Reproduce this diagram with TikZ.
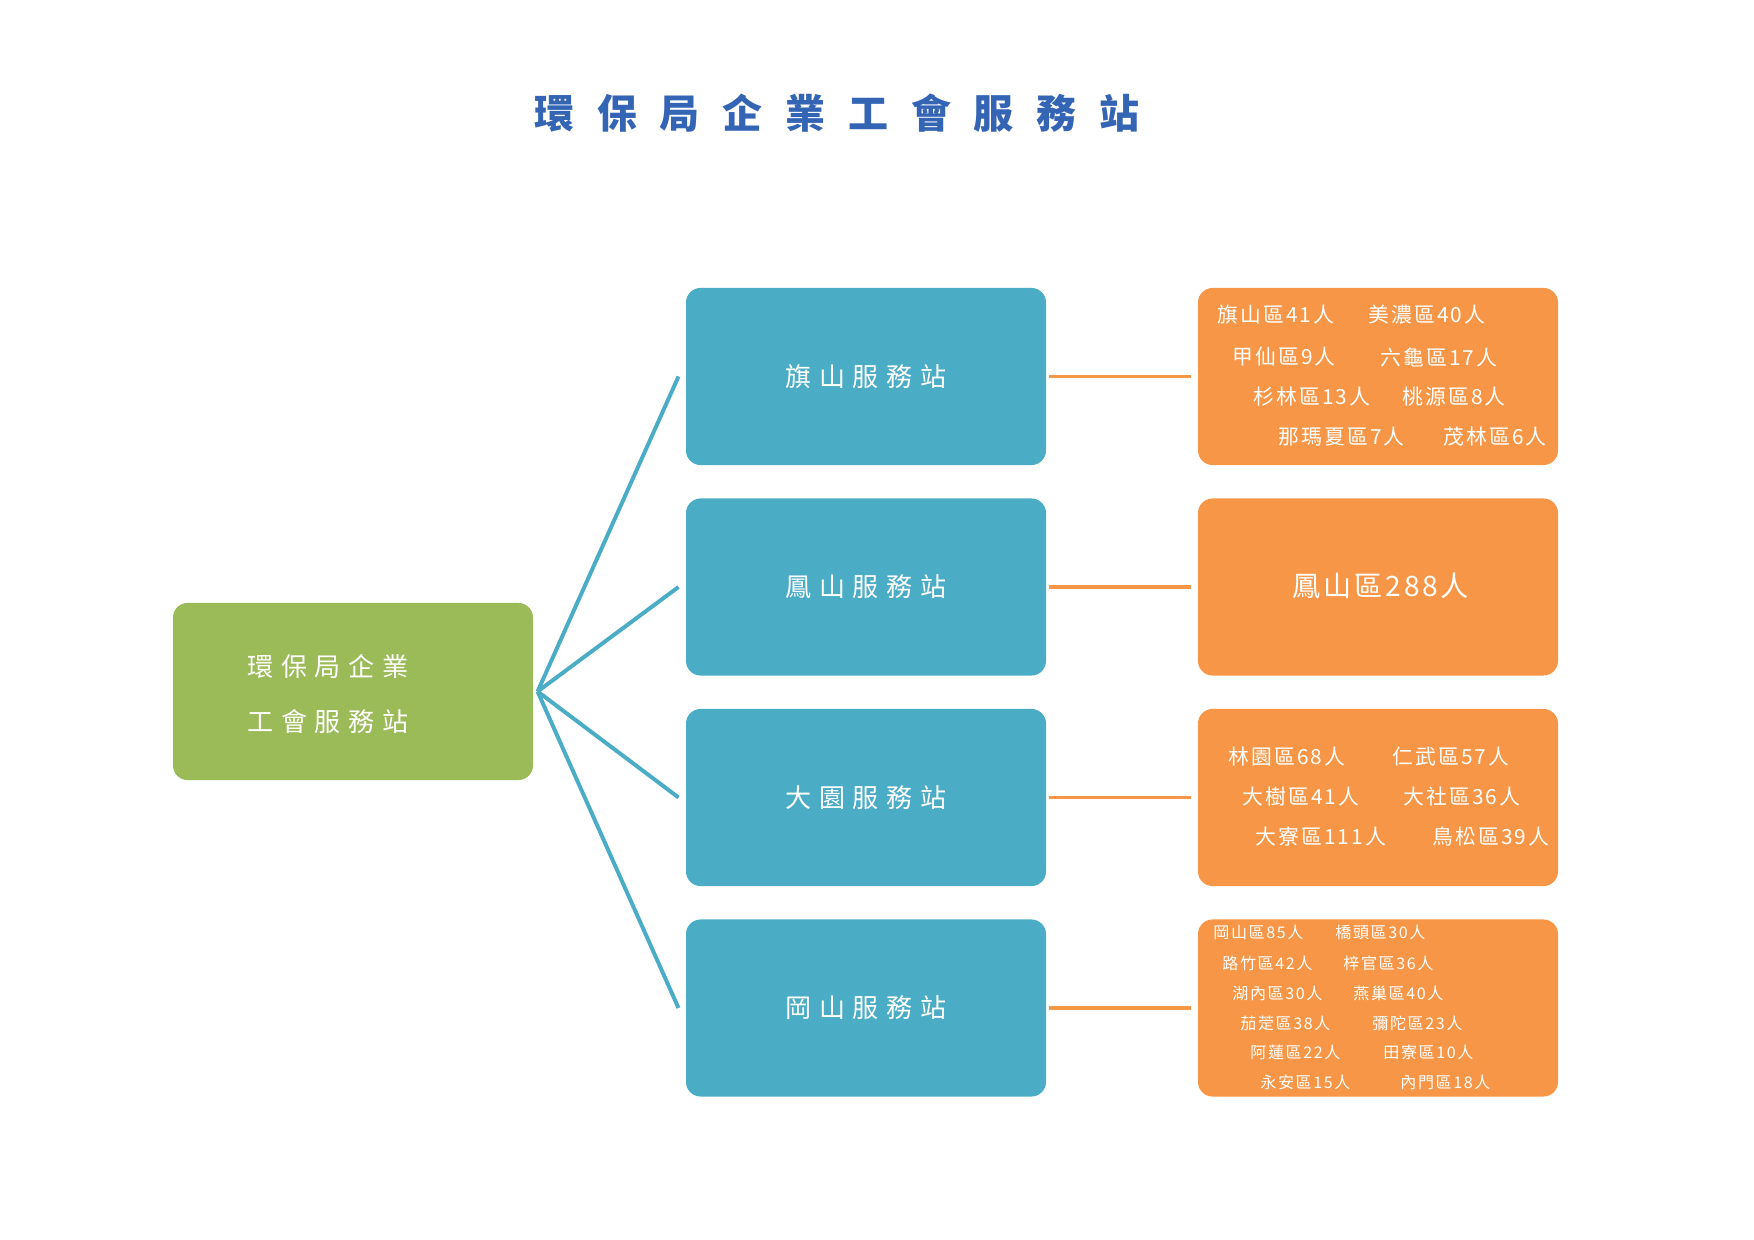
\documentclass[tikz,border=0pt]{standalone}
\usepackage{fontspec}
\setmainfont{Noto Sans CJK TC}
\usepackage{tikz}
\definecolor{tgreen}{HTML}{9BBB59}
\definecolor{tblue}{HTML}{4BACC6}
\definecolor{torange}{HTML}{F79646}
\definecolor{ttitle}{HTML}{3464B4}
\tikzset{
  box/.style={rounded corners=7pt,minimum width=172.8pt,minimum height=85pt,inner sep=0},
  root/.style={box,fill=tgreen},
  stn/.style={box,fill=tblue},
  dist/.style={box,fill=torange},
  ttl/.style={text=ttitle,inner sep=0,font={\fontsize{19.2pt}{22pt}\selectfont\bfseries\addfontfeatures{LetterSpace=57}}},
  lbl/.style={text=white,inner sep=0,font={\fontsize{12.5pt}{26.4pt}\selectfont\addfontfeatures{LetterSpace=30}}},
  ent/.style={text=white,anchor=west,inner sep=0},
  enta/.style={ent,font={\fontsize{10pt}{12pt}\selectfont\addfontfeatures{LetterSpace=10}}},
  entb/.style={text=white,inner sep=0,font={\fontsize{13.5pt}{16pt}\selectfont\addfontfeatures{LetterSpace=10}}},
  entc/.style={ent,font={\fontsize{7.7pt}{9pt}\selectfont\addfontfeatures{LetterSpace=10}}},
  blink/.style={draw=tblue,line width=1.9pt},
  olink/.style={draw=torange,line width=1.9pt},
}
\begin{document}
\begin{tikzpicture}[x=0.48pt,y=-0.48pt]
  \useasboundingbox (0,0) rectangle (1754,1240);
  % --- title
  \node[ttl] (title) at (837,113) {環保局企業工會服務站};
  % --- root
  \node[root] (root) at (353,691.5) {};
  \node[lbl,align=left] (rootlbl) at (328,694) {環保局企業\\工會服務站};
  % --- stations and districts
  \foreach \n/\y/\t in {a/376.5/旗山服務站, b/587/鳳山服務站, c/797.5/大園服務站, d/1008/岡山服務站} {
    \node[stn] (s\n) at (866,\y) {};
    \node[lbl] (s\n lbl) at (866,\y) {\t};
    \node[dist] (d\n) at (1378,\y) {};
    \draw[blink] ([xshift=2pt]root.east) -- ([xshift=-3.4pt]s\n.west);
    \draw[olink] ([xshift=1pt]s\n.east) -- ([xshift=-3pt]d\n.west);
  }
  % 旗山
  \foreach \x/\y/\t [count=\i] in {1217/315/旗山區41人, 1368/315/美濃區40人, 1232/357/甲仙區9人, 1380/357/六龜區17人, 1253/397/杉林區13人, 1402/397/桃源區8人, 1278/437/那瑪夏區7人, 1443/437/茂林區6人}
    \node[enta] (ea\i) at (\x,\y) {\t};
  % 鳳山
  \node[entb] (eb1) at (1381,586) {鳳山區288人};
  % 大園
  \foreach \x/\y/\t [count=\i] in {1228/757/林園區68人, 1392/757/仁武區57人, 1242/797/大樹區41人, 1403/797/大社區36人, 1255/837/大寮區111人, 1432/837/鳥松區39人}
    \node[enta] (ec\i) at (\x,\y) {\t};
  % 岡山
  \foreach \x/\y/\t [count=\i] in {1213/932/岡山區85人, 1335/932/橋頭區30人, 1222/963/路竹區42人, 1343/963/梓官區36人, 1232/993/湖內區30人, 1353/993/燕巢區40人, 1240/1023/茄萣區38人, 1372/1023/彌陀區23人, 1250/1052/阿蓮區22人, 1383/1052/田寮區10人, 1260/1082/永安區15人, 1400/1082/內門區18人}
    \node[entc] (ed\i) at (\x,\y) {\t};
\end{tikzpicture}
\end{document}
